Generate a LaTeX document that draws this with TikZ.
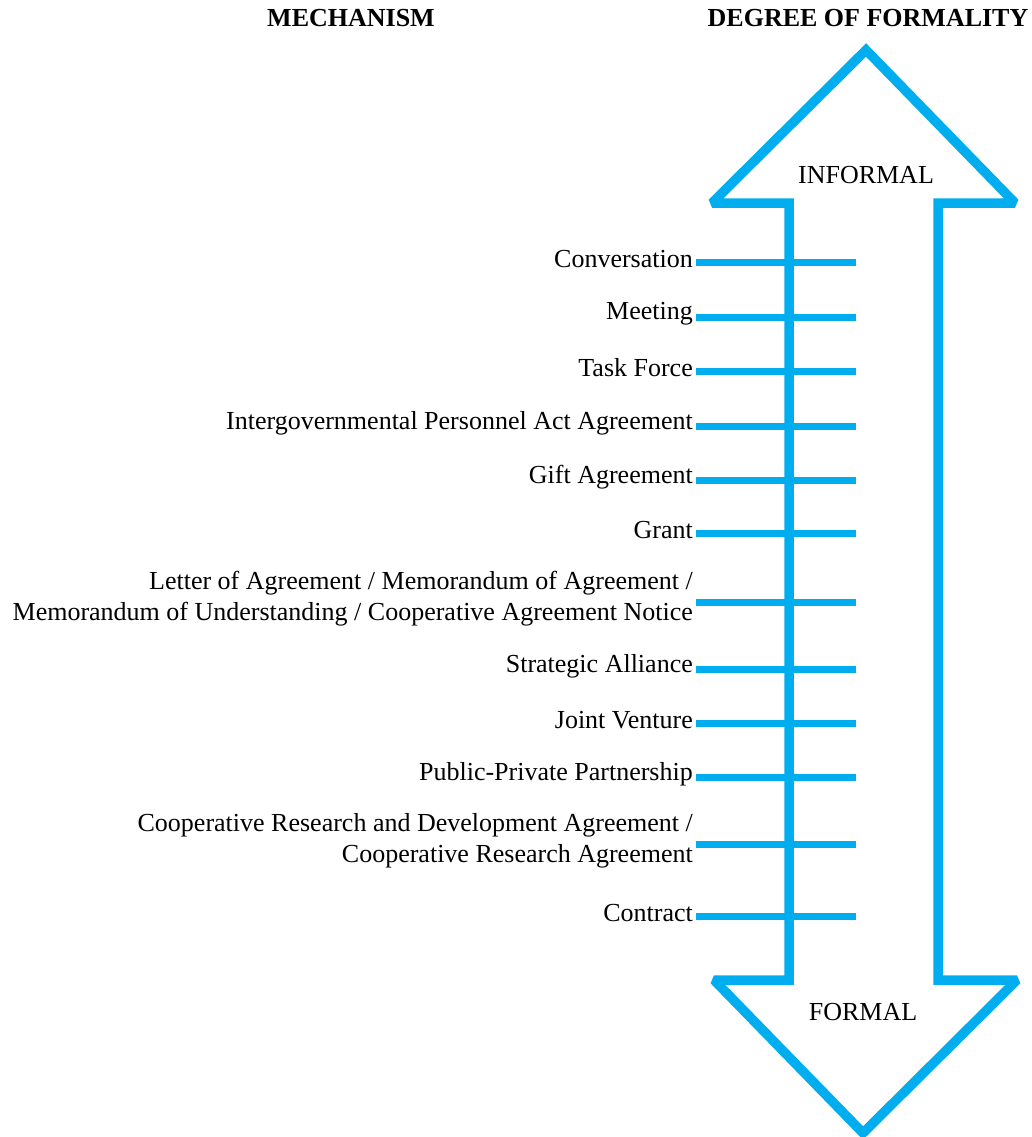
\documentclass[tikz,border=0pt]{standalone}
\usepackage{fontspec}
\setmainfont{Liberation Serif}
\usetikzlibrary{positioning}
\definecolor{cyanline}{RGB}{0,174,239}
\tikzset{
  mech/.style={anchor=east,align=right,font=\fontsize{26}{31}\selectfont,inner sep=3pt},
  head/.style={font=\fontsize{26}{31}\selectfont\bfseries},
  pole/.style={font=\fontsize{26}{31}\selectfont},
  rung/.style={draw=cyanline,line width=7pt},
  bigarr/.style={draw=cyanline,line width=9.5pt,line join=miter,miter limit=2}
}
\begin{document}
\begin{tikzpicture}[x=1pt,y=-1pt]
\useasboundingbox (0,0) rectangle (1032,1137);
% double-headed arrow
\draw[bigarr] (789,203) -- (712,203) -- (866,50) -- (1015,203) -- (938,203)
  -- (938,980) -- (1017,980) -- (863,1133) -- (714,980) -- (789,980) -- cycle;
\node[head] (mechhead) at (351,18) {MECHANISM};
\node[head] (formhead) at (868,18) {DEGREE OF FORMALITY};
\node[pole] (informal) at (866,175) {INFORMAL};
\node[pole] (formal) at (863,1012) {FORMAL};
% mechanisms and rungs
\foreach \i/\y/\t in {1/262/Conversation,2/317/Meeting,3/371/Task Force,
  4/426/Intergovernmental Personnel Act Agreement,5/480/Gift Agreement,6/533/Grant,
  7/602/{Letter of Agreement / Memorandum of Agreement /\\Memorandum of Understanding / Cooperative Agreement Notice},
  8/669/Strategic Alliance,9/723/Joint Venture,10/777/Public-Private Partnership,
  11/844/{Cooperative Research and Development Agreement /\\Cooperative Research Agreement},
  12/916/Contract}{
  \node[mech] (m\i) at (696,\y-3) {\t};
  \coordinate (t\i) at (856,\y);
  \draw[rung] (m\i.east |- t\i) -- (t\i);
}
\end{tikzpicture}
\end{document}
